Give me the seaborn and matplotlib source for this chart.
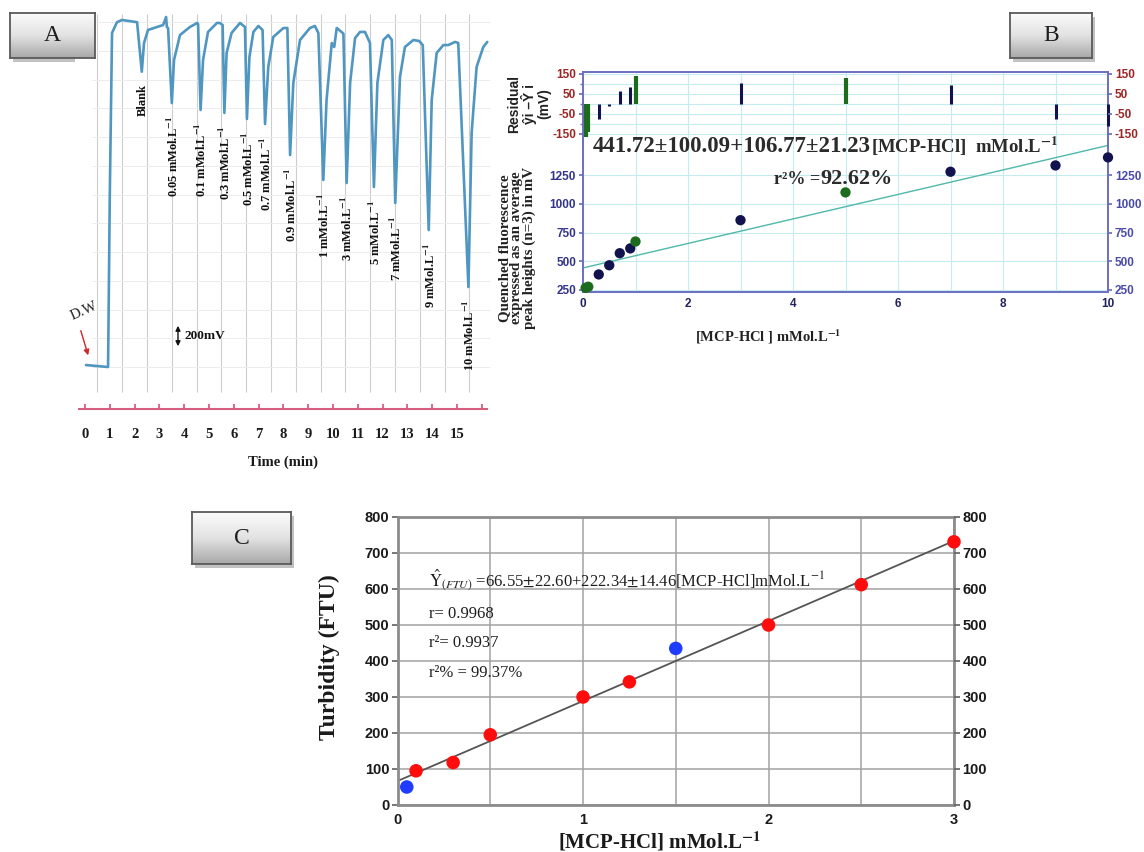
import numpy as np
import pandas as pd
import matplotlib
matplotlib.use("Agg")
import matplotlib.pyplot as plt
import seaborn as sns
from matplotlib.patches import Rectangle
from matplotlib.colors import LinearSegmentedColormap
from matplotlib.ticker import MultipleLocator, FixedLocator

# ---------------- Panel A data (FIA response trace) ----------------
trace_time_min = [0.04, 0.93, 1.00, 1.09, 1.29, 1.49, 2.10, 2.29, 2.38, 2.54, 2.90, 3.15,
                  3.27, 3.30, 3.35, 3.50, 3.59, 3.83, 4.23, 4.52, 4.56, 4.66, 4.76, 4.96,
                  5.32, 5.44, 5.55, 5.62, 5.71, 5.91, 6.25, 6.45, 6.53, 6.63, 6.79, 6.99,
                  7.16, 7.26, 7.39, 7.59, 8.00, 8.16, 8.27, 8.40, 8.67, 9.07, 9.27, 9.41,
                  9.61, 9.74, 9.95, 10.05, 10.15, 10.25, 10.42, 10.55, 10.69, 10.89, 11.09,
                  11.29, 11.49, 11.65, 11.79, 12.03, 12.23, 12.37, 12.51, 12.70, 12.90,
                  13.24, 13.48, 13.62, 13.86, 13.98, 14.18, 14.45, 14.65, 14.92, 15.05,
                  15.46, 15.59, 15.79, 16.06, 16.22]
trace_signal_mV = [17, 0, 1500, 2906, 3000, 3019, 3000, 2569, 2819, 2932, 2958, 2975,
                   3045, 2958, 2949, 2297, 2671, 2888, 2958, 2993, 2984, 2236, 2671, 2915,
                   2993, 2993, 2975, 2210, 2732, 2906, 2993, 2958, 2158, 2697, 2915, 2967,
                   2932, 2114, 2610, 2871, 2949, 2949, 1844, 2471, 2845, 2949, 2967, 2906,
                   1627, 2323, 2819, 2784, 2949, 2932, 2900, 1601, 2471, 2862, 2915,
                   2915, 2819, 1566, 2471, 2845, 2888, 2845, 1427, 2523, 2784,
                   2845, 2836, 2800, 1192, 2323, 2732, 2801, 2801, 2828, 2819,
                   696, 2036, 2610, 2784, 2828]
peak_labels = ["Blank",
               r"0.05 mMol.L$^{\mathbf{-1}}$", r"0.1 mMol.L$^{\mathbf{-1}}$",
               r"0.3 mMol.L$^{\mathbf{-1}}$", r"0.5 mMol.L$^{\mathbf{-1}}$",
               r"0.7 mMol.L$^{\mathbf{-1}}$", r"0.9 mMol.L$^{\mathbf{-1}}$",
               r"1 mMol.L$^{\mathbf{-1}}$", r"3 mMol.L$^{\mathbf{-1}}$",
               r"5 mMol.L$^{\mathbf{-1}}$", r"7 mMol.L$^{\mathbf{-1}}$",
               r"9 mMol.L$^{\mathbf{-1}}$", r"10 mMol.L$^{\mathbf{-1}}$"]
a_tick_minutes = list(range(16))

# ---------------- Panel B data ----------------
b_conc = [0.05, 0.1, 0.3, 0.5, 0.7, 0.9, 1, 3, 5, 7, 9, 10]
b_signal = [268, 278, 385, 465, 570, 612, 672, 858, 1100, 1280, 1335, 1405]
b_group = ["out", "out", "in", "in", "in", "in", "out", "in", "out", "in", "in", "in"]
b_residual = [-165, -140, -75, -10, 65, 85, 140, 105, 130, 95, -75, -110]
b_intercept, b_slope = 441.72, 106.77

# ---------------- Panel C data ----------------
c_conc = [0.05, 0.1, 0.3, 0.5, 1, 1.25, 1.5, 2, 2.5, 3]
c_turbidity = [50, 95, 118, 195, 300, 342, 435, 500, 612, 731]
c_group = ["blue", "red", "red", "red", "red", "red", "blue", "red", "red", "red"]
c_intercept, c_slope = 66.55, 222.34

# ---------------- styling ----------------
sns.set_theme(style="white")
SERIF = ["Liberation Serif", "DejaVu Serif"]
SANS = ["Liberation Sans", "DejaVu Sans"]
plt.rcParams["font.family"] = SERIF
plt.rcParams["mathtext.fontset"] = "stix"
plt.rcParams["axes.unicode_minus"] = False

W, H = 1144, 852
def fx(px): return px / W
def fy(py): return 1 - py / H
def rect(x0, y0, x1, y1): return [x0 / W, 1 - y1 / H, (x1 - x0) / W, (y1 - y0) / H]

fig = plt.figure(figsize=(W / 100, H / 100), dpi=100)
fig.patch.set_facecolor("white")

box_cmap = LinearSegmentedColormap.from_list("box", ["#fbfbfb", "#e2e2e2", "#a9a9a9"])
def label_box(x0, y0, x1, y1, letter):
    fig.patches.append(Rectangle((fx(x0 + 3), fy(y1 + 4)), (x1 - x0) / W, (y1 - y0) / H,
                                 transform=fig.transFigure, facecolor="#a8a8a8",
                                 edgecolor="none", alpha=0.7, zorder=-1))
    ax = fig.add_axes(rect(x0, y0, x1, y1))
    grad = np.linspace(0, 1, 64).reshape(-1, 1)
    ax.imshow(grad, aspect="auto", cmap=box_cmap, extent=(0, 1, 0, 1), origin="upper")
    ax.set_xticks([]); ax.set_yticks([])
    for s in ax.spines.values():
        s.set_color("#5a5a5a"); s.set_linewidth(1.3)
    ax.text(0.5, 0.5, letter, ha="center", va="center", fontsize=17, family=SERIF, color="#1e1e1e")

# ======================= Panel A =======================
A_X0, A_PXMIN, A_MVPX, A_Y0 = 85, 24.8, 8.7, 367
def a_t(px): return (px - A_X0) / A_PXMIN
def a_mv(py): return (A_Y0 - py) * A_MVPX

axA = fig.add_axes(rect(75, 5, 492, 415))
axA.set_xlim(a_t(75), a_t(492))
axA.set_ylim(a_mv(415), a_mv(5))
axA.set_xticks(a_tick_minutes)
axA.set_xticklabels([str(m) for m in a_tick_minutes])
axA.tick_params(axis="x", which="both", length=0, pad=9, labelsize=10.5)
axA.tick_params(axis="y", which="both", length=0, labelleft=False)
for lab in axA.get_xticklabels():
    lab.set_fontweight("bold"); lab.set_color("#1a1a1a")
for s in axA.spines.values():
    s.set_visible(False)

# chart-paper background lines (restricted to the paper area)
axA.vlines(np.arange(0.5, 16.5, 1.0), a_mv(392), a_mv(14), color="#cdcdcd", lw=0.8, zorder=0)
axA.hlines(np.arange(0, 3001, 250), a_t(92), a_t(490), color="#ececec", lw=0.7, zorder=0)

sns.lineplot(x=trace_time_min, y=trace_signal_mV, ax=axA, color="#4f96c0", lw=1.9,
             sort=False, estimator=None, zorder=3)

# event marker line
pink = "#d65f80"
axA.hlines(a_mv(409), a_t(78), a_t(488), color=pink, lw=1.5)
axA.vlines(np.arange(0, 17), a_mv(409), a_mv(404), color=pink, lw=1.3)

# peak labels at each dip
t_arr = np.array(trace_time_min); s_arr = np.array(trace_signal_mV)
mins = [i for i in range(1, len(s_arr) - 1)
        if s_arr[i] < s_arr[i - 1] and s_arr[i] < s_arr[i + 1] and 500 < s_arr[i] < 2620]
for i, lab in zip(mins, peak_labels):
    axA.text(t_arr[i] + 0.05, s_arr[i] - 110, lab, rotation=90, ha="center", va="top",
             fontsize=9, fontweight="bold", family=SERIF, color="#111111", zorder=4)

axA.text(a_t(84), a_mv(311), "D.W", rotation=24, ha="center", va="center",
         fontsize=10.5, family=SERIF, color="#222222")
axA.annotate("", xy=(a_t(89), a_mv(358)), xytext=(a_t(80), a_mv(328)),
             arrowprops=dict(arrowstyle="-|>", color="#d02828", lw=1.0, mutation_scale=8))
axA.annotate("", xy=(a_t(178), a_mv(323)), xytext=(a_t(178), a_mv(349)),
             arrowprops=dict(arrowstyle="<|-|>", color="#111111", lw=1.0, mutation_scale=7))
axA.text(a_t(184), a_mv(336), "200mV", ha="left", va="center", fontsize=9.5,
         fontweight="bold", family=SERIF, color="#111111")
fig.text(fx(283), fy(462), "Time (min)", ha="center", va="center", fontsize=10.5,
         fontweight="bold", family=SERIF, color="#1a1a1a")

label_box(10, 13, 95, 58, "A")

# ======================= Panel B =======================
spine_b = "#6e6ec2"
grid_b = "#c5ecef"
navy = "#12124f"
green = "#1d6b1d"
red_lab = "#9b2626"

axR = fig.add_axes(rect(583, 72, 1108, 141))
axR.set_xlim(0, 10); axR.set_ylim(-185, 160)
for x, r, g in zip(b_conc, b_residual, b_group):
    axR.vlines(x, 0, r, color=green if g == "out" else navy, lw=3.0 if g == "out" else 2.2,
               zorder=3, clip_on=False)
axR.xaxis.set_major_locator(MultipleLocator(1))
axR.set_yticks([-150, -50, 50, 150])
axR.yaxis.set_minor_locator(FixedLocator([-150, -100, -50, 0, 50, 100, 150]))
axR.grid(True, which="both", color=grid_b, lw=0.8)
axR.tick_params(axis="x", length=0, labelbottom=False)
axR.tick_params(axis="y", which="major", length=3, color=spine_b, labelsize=8.5,
                labelcolor=red_lab, pad=2)
axR.tick_params(axis="y", which="minor", length=2, color=spine_b)
axR.spines["bottom"].set_visible(False)
for k in ["top", "left", "right"]:
    axR.spines[k].set_color(spine_b); axR.spines[k].set_linewidth(1.4)
    axR.spines[k].set_zorder(1)
axR2 = axR.twinx()
axR2.set_ylim(axR.get_ylim())
axR2.set_yticks([-150, -50, 50, 150])
axR2.tick_params(axis="y", length=3, color=spine_b, labelsize=8.5, labelcolor=red_lab, pad=2)
for s in axR2.spines.values():
    s.set_visible(False)
for lab in axR.get_yticklabels() + axR2.get_yticklabels():
    lab.set_fontweight("bold"); lab.set_family(SANS)

axM = fig.add_axes(rect(583, 141, 1108, 292))
axM.set_xlim(0, 10); axM.set_ylim(232, 1548)
axM.set_xticks([0, 2, 4, 6, 8, 10])
axM.xaxis.set_minor_locator(MultipleLocator(1))
axM.set_yticks([250, 500, 750, 1000, 1250])
axM.grid(True, which="both", color=grid_b, lw=0.8)
axM.tick_params(axis="x", which="major", length=3, color=spine_b, labelsize=8.5,
                labelcolor="#23235e", pad=1)
axM.tick_params(axis="x", which="minor", length=2, color=spine_b)
axM.tick_params(axis="y", length=3, color=spine_b, labelsize=8.5, labelcolor="#34348a", pad=2)
axM.spines["top"].set_visible(False)
for k in ["bottom", "left", "right"]:
    axM.spines[k].set_color(spine_b); axM.spines[k].set_linewidth(1.4)

dfB = pd.DataFrame({"conc": b_conc, "signal": b_signal, "group": b_group})
sns.lineplot(x=[0, 10], y=[b_intercept, b_intercept + b_slope * 10], ax=axM,
             color="#4fb8aa", lw=1.0, zorder=2)
sns.scatterplot(data=dfB, x="conc", y="signal", hue="group",
                palette={"in": navy, "out": green}, s=55, linewidth=0,
                legend=False, ax=axM, zorder=4, clip_on=False)
axM.set_xlabel(""); axM.set_ylabel("")
axM2 = axM.twinx()
axM2.set_ylim(axM.get_ylim())
axM2.set_yticks([250, 500, 750, 1000, 1250])
axM2.tick_params(axis="y", length=3, color=spine_b, labelsize=8.5, labelcolor="#4a4aa8", pad=2)
for s in axM2.spines.values():
    s.set_visible(False)
for lab in axM.get_xticklabels() + axM.get_yticklabels() + axM2.get_yticklabels():
    lab.set_fontweight("bold"); lab.set_family(SANS)

t1 = fig.text(fx(593), fy(147), "441.72\u00b1100.09+106.77\u00b121.23", fontsize=16.5,
              fontweight="bold", family=SERIF, color="#2b2b2b", ha="left", va="center")
axM.annotate(r"[MCP-HCl]  mMol.L$^{\mathbf{-1}}$", xy=(1, 0), xycoords=t1, ha="left",
             va="bottom", fontsize=13.5, fontweight="bold", family=SERIF, color="#2b2b2b",
             annotation_clip=False)
t3 = fig.text(fx(774), fy(180), "r\u00b2% =", fontsize=13, fontweight="bold",
              family=SERIF, color="#2b2b2b", ha="left", va="center")
axM.annotate("92.62%", xy=(1, 0), xycoords=t3, ha="left", va="bottom", fontsize=16,
             fontweight="bold", family=SERIF, color="#2b2b2b", annotation_clip=False)

fig.text(fx(768), fy(337), r"[MCP-HCl ] mMol.L$^{\mathbf{-1}}$", ha="center", va="center",
         fontsize=10.5, fontweight="bold", family=SERIF, color="#222222")
fig.text(fx(517), fy(248), "Quenched fluorescence\nexpressed as an average\npeak heights (n=3) in mV",
         rotation=90, ha="center", va="center", multialignment="center", linespacing=0.9,
         fontsize=10.8, fontweight="bold", family=SERIF, color="#222222")
fig.text(fx(529), fy(104), "Residual\n\u0177i \u2013\u0176 i\n(mV)", rotation=90, ha="center",
         va="center", multialignment="center", linespacing=1.0, fontsize=10,
         fontweight="bold", family=SANS, color="#222222")

label_box(1010, 13, 1092, 58, "B")

# ======================= Panel C =======================
axC = fig.add_axes(rect(397.5, 517, 954, 805))
axC.set_xlim(0, 3); axC.set_ylim(0, 800)
axC.set_xticks([0, 1, 2, 3])
axC.xaxis.set_minor_locator(MultipleLocator(0.5))
axC.set_yticks(np.arange(0, 801, 100))
axC.grid(True, which="both", color="#a2a2a2", lw=1.1)
axC.tick_params(axis="both", which="major", length=4, color="#666666", labelsize=10.5,
                labelcolor="#1a1a1a", pad=2)
axC.tick_params(axis="x", which="minor", length=0)
for s in axC.spines.values():
    s.set_color("#8c8c8c"); s.set_linewidth(2.0)

dfC = pd.DataFrame({"conc": c_conc, "turbidity": c_turbidity, "group": c_group})
sns.lineplot(x=[0, 3], y=[c_intercept, c_intercept + c_slope * 3], ax=axC,
             color="#555555", lw=1.3, zorder=2)
sns.scatterplot(data=dfC, x="conc", y="turbidity", hue="group",
                palette={"red": "#ff0d0d", "blue": "#1f3cff"}, s=95, linewidth=0,
                legend=False, ax=axC, zorder=4, clip_on=False)
axC.set_xlabel(""); axC.set_ylabel("")
axC2 = axC.twinx()
axC2.set_ylim(axC.get_ylim())
axC2.set_yticks(np.arange(0, 801, 100))
axC2.tick_params(axis="y", length=4, color="#666666", labelsize=10.5, labelcolor="#1a1a1a", pad=2)
for s in axC2.spines.values():
    s.set_visible(False)
for lab in axC.get_xticklabels() + axC.get_yticklabels() + axC2.get_yticklabels():
    lab.set_fontweight("bold"); lab.set_family(SANS)

c_txt = dict(fontsize=12, family=SERIF, color="#1e1e1e", ha="left", va="center")
fig.text(fx(429), fy(580),
         r"$\hat{\mathrm{Y}}_{\mathit{(FTU)}}$ =66.55$\pm$22.60+222.34$\pm$14.46[MCP-HCl]mMol.L$^{-1}$",
         **c_txt)
fig.text(fx(429), fy(614), "r= 0.9968", **c_txt)
fig.text(fx(429), fy(643), "r\u00b2= 0.9937", **c_txt)
fig.text(fx(429), fy(673), "r\u00b2% = 99.37%", **c_txt)

fig.text(fx(329), fy(657), "Turbidity (FTU)", rotation=90, ha="center", va="center",
         fontsize=17, fontweight="bold", family=SERIF, color="#1a1a1a")
fig.text(fx(659), fy(842), r"[MCP-HCl] mMol.L$^{\mathbf{-1}}$", ha="center", va="center",
         fontsize=15, fontweight="bold", family=SERIF, color="#1a1a1a")

label_box(192, 512, 291, 564, "C")

fig.savefig("out.png", dpi=100, facecolor="white")
